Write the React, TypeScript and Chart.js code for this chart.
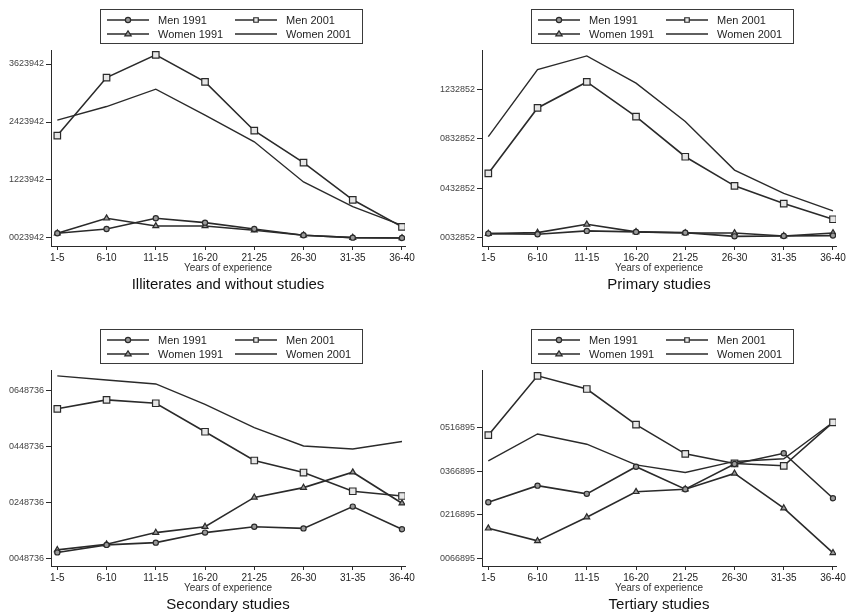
import React, { useEffect, useRef } from "react";
import { Chart, registerables } from "chart.js";

Chart.register(...registerables);

// ---------- data ----------
const categories = ["1-5", "6-10", "11-15", "16-20", "21-25", "26-30", "31-35", "36-40"];
const seriesNames = ["Men 1991", "Men 2001", "Women 1991", "Women 2001"];
const xAxisTitle = "Years of experience";

// Illiterates and without studies
const illitTitle = "Illiterates and without studies";
const illitMen1991 = [0.97, 1.86, 4.07, 3.17, 1.86, 0.55, 0.07, 0.0];
const illitMen2001 = [21.2, 33.2, 37.9, 32.3, 22.2, 15.6, 7.9, 2.3];
const illitWomen1991 = [0.97, 4.07, 2.48, 2.48, 1.6, 0.55, 0.07, 0.0];
const illitWomen2001 = [24.4, 27.2, 30.8, 25.4, 19.9, 11.6, 6.5, 2.6];
const illitTicks = [0, 12, 24, 36];
const illitTickLabels = ["0023942", "1223942", "2423942", "3623942"];

// Primary studies
const primTitle = "Primary studies";
const primMen1991 = [0.35, 0.3, 0.57, 0.49, 0.43, 0.13, 0.16, 0.19];
const primMen2001 = [5.21, 10.5, 12.6, 9.8, 6.56, 4.21, 2.78, 1.51];
const primWomen1991 = [0.35, 0.43, 1.1, 0.49, 0.4, 0.4, 0.16, 0.4];
const primWomen2001 = [8.18, 13.6, 14.7, 12.5, 9.4, 5.48, 3.6, 2.19];
const primTicks = [0, 4, 8, 12];
const primTickLabels = ["0032852", "0432852", "0832852", "1232852"];

// Secondary studies
const secTitle = "Secondary studies";
const secMen1991 = [0.21, 0.48, 0.56, 0.92, 1.13, 1.07, 1.85, 1.04];
const secMen2001 = [5.35, 5.67, 5.55, 4.53, 3.5, 3.07, 2.4, 2.23];
const secWomen1991 = [0.3, 0.5, 0.92, 1.13, 2.18, 2.53, 3.08, 1.97];
const secWomen2001 = [6.53, 6.38, 6.24, 5.51, 4.68, 4.02, 3.91, 4.18];
const secTicks = [0, 2, 4, 6];
const secTickLabels = ["0048736", "0248736", "0448736", "0648736"];

// Tertiary studies
const terTitle = "Tertiary studies";
const terMen1991 = [19.3, 25.0, 22.2, 31.5, 23.8, 32.4, 36.1, 20.7];
const terMen2001 = [42.3, 62.6, 58.1, 45.9, 35.9, 32.6, 31.8, 46.7];
const terWomen1991 = [10.4, 6.1, 14.2, 22.9, 23.8, 29.2, 17.3, 2.0];
const terWomen2001 = [33.5, 42.7, 39.2, 32.1, 29.5, 33.3, 34.2, 46.7];
const terTicks = [0, 15, 30, 45];
const terTickLabels = ["0066895", "0216895", "0366895", "0516895"];

// ---------- styling ----------
const FONT = "'Liberation Sans', Arial, Helvetica, sans-serif";
const INK = "#2a2a2a";
const CANVAS_W = 415;
const CANVAS_H = 300;

const seriesStyles = [
  { pointStyle: "circle", pointRadius: 2.6, pointBackgroundColor: "#9a9a9a", borderWidth: 1.6 },
  { pointStyle: "rect", pointRadius: 4.6, pointBackgroundColor: "#e6e6e6", borderWidth: 1.6 },
  { pointStyle: "triangle", pointRadius: 3.4, pointBackgroundColor: "#9a9a9a", borderWidth: 1.6 },
  { pointStyle: "circle", pointRadius: 0, pointBackgroundColor: INK, borderWidth: 1.4 },
];

type Panel = {
  title: string;
  series: number[][];
  ticks: number[];
  tickLabels: string[];
  yMin: number;
  yMax: number;
  left: number;
  top: number;
};

const panels: Panel[] = [
  { title: illitTitle, series: [illitMen1991, illitMen2001, illitWomen1991, illitWomen2001], ticks: illitTicks, tickLabels: illitTickLabels, yMin: -1.66, yMax: 38.9, left: 0, top: 0 },
  { title: primTitle, series: [primMen1991, primMen2001, primWomen1991, primWomen2001], ticks: primTicks, tickLabels: primTickLabels, yMin: -0.65, yMax: 15.18, left: 431, top: 0 },
  { title: secTitle, series: [secMen1991, secMen2001, secWomen1991, secWomen2001], ticks: secTicks, tickLabels: secTickLabels, yMin: -0.276, yMax: 6.74, left: 0, top: 320 },
  { title: terTitle, series: [terMen1991, terMen2001, terWomen1991, terWomen2001], ticks: terTicks, tickLabels: terTickLabels, yMin: -2.5, yMax: 64.6, left: 431, top: 320 },
];

function drawMarker(ctx: CanvasRenderingContext2D, style: string, r: number, x: number, y: number, fill: string) {
  if (r <= 0) return;
  ctx.save();
  ctx.beginPath();
  if (style === "circle") {
    ctx.arc(x, y, r, 0, Math.PI * 2);
  } else if (style === "rect") {
    const s = r * Math.SQRT1_2;
    ctx.rect(x - s, y - s, 2 * s, 2 * s);
  } else {
    const h = r * 1.5;
    ctx.moveTo(x, y - r);
    ctx.lineTo(x + h * 0.577 * 1.15, y + r * 0.6);
    ctx.lineTo(x - h * 0.577 * 1.15, y + r * 0.6);
    ctx.closePath();
  }
  ctx.fillStyle = fill;
  ctx.fill();
  ctx.lineWidth = 1.2;
  ctx.strokeStyle = INK;
  ctx.stroke();
  ctx.restore();
}

const boxLegend = {
  id: "boxLegend",
  afterDraw(chart: any) {
    const ctx: CanvasRenderingContext2D = chart.ctx;
    const area = chart.chartArea;
    const x0 = area.left + 49;
    const y0 = 9;
    const w = 262;
    const h = 34;
    ctx.save();
    ctx.strokeStyle = "#3a3a3a";
    ctx.lineWidth = 1;
    ctx.strokeRect(x0 + 0.5, y0 + 0.5, w, h);
    const colX = [x0 + 7, x0 + 135];
    const rowY = [y0 + 11, y0 + 25];
    const lineLen = 42;
    ctx.font = `11px ${FONT}`;
    ctx.textBaseline = "middle";
    ctx.textAlign = "left";
    chart.data.datasets.forEach((ds: any, i: number) => {
      const cx = colX[i % 2];
      const cy = rowY[Math.floor(i / 2)];
      ctx.beginPath();
      ctx.moveTo(cx, cy);
      ctx.lineTo(cx + lineLen, cy);
      ctx.strokeStyle = INK;
      ctx.lineWidth = ds.borderWidth;
      ctx.stroke();
      drawMarker(ctx, ds.pointStyle, Math.min(ds.pointRadius, 3.2), cx + lineLen / 2, cy, ds.pointBackgroundColor);
      ctx.fillStyle = "#1e1e1e";
      ctx.fillText(ds.label, cx + lineLen + 9, cy + 0.5);
    });
    ctx.restore();
  },
};

function PanelChart({ panel }: { panel: Panel }) {
  const ref = useRef<HTMLCanvasElement | null>(null);
  useEffect(() => {
    if (!ref.current) return;
    const datasets = panel.series.map((vals, si) => ({
      label: seriesNames[si],
      data: categories.map((_, i) => ({ x: i, y: vals[i] })),
      borderColor: INK,
      borderWidth: seriesStyles[si].borderWidth,
      pointStyle: seriesStyles[si].pointStyle,
      pointRadius: seriesStyles[si].pointRadius,
      pointBackgroundColor: seriesStyles[si].pointBackgroundColor,
      pointBorderColor: INK,
      pointBorderWidth: 1.2,
      tension: 0,
      fill: false,
    }));
    const chart = new Chart(ref.current, {
      type: "line",
      data: { datasets },
      plugins: [boxLegend],
      options: {
        animation: false,
        responsive: false,
        devicePixelRatio: 1,
        layout: { padding: { left: 0, right: 10, top: 50, bottom: 0 } },
        plugins: {
          legend: { display: false },
          tooltip: { enabled: false },
          title: {
            display: true,
            text: panel.title,
            position: "bottom",
            fullSize: false,
            color: "#111",
            font: { family: FONT, size: 15, weight: "normal" },
            padding: { top: 0, bottom: 6 },
          },
        },
        scales: {
          x: {
            type: "linear",
            min: -0.128,
            max: 7.061,
            afterBuildTicks: (s: any) => {
              s.ticks = categories.map((_, i) => ({ value: i }));
            },
            afterFit: (s: any) => {
              s.height = 30;
              s.paddingLeft = 0;
              s.paddingRight = 0;
            },
            ticks: {
              autoSkip: false,
              maxRotation: 0,
              padding: 2,
              color: "#222",
              font: { family: FONT, size: 10 },
              callback: (_v: any, i: number) => categories[i],
            },
            grid: { display: true, drawOnChartArea: false, drawTicks: true, tickLength: 4, color: INK, lineWidth: 1 },
            border: { display: true, color: INK, width: 1 },
            title: {
              display: true,
              text: xAxisTitle,
              color: "#333",
              font: { family: FONT, size: 10 },
              padding: { top: 0, bottom: 2 },
            },
          },
          y: {
            type: "linear",
            min: panel.yMin,
            max: panel.yMax,
            afterBuildTicks: (s: any) => {
              s.ticks = panel.ticks.map((v) => ({ value: v }));
            },
            afterFit: (s: any) => {
              s.width = 51;
              s.paddingTop = 0;
              s.paddingBottom = 0;
            },
            ticks: {
              autoSkip: false,
              padding: 2,
              color: "#444",
              font: { family: FONT, size: 9 },
              callback: (_v: any, i: number) => panel.tickLabels[i],
            },
            grid: { display: true, drawOnChartArea: false, drawTicks: true, tickLength: 5, color: INK, lineWidth: 1 },
            border: { display: true, color: INK, width: 1 },
          },
        },
      } as any,
    });
    return () => chart.destroy();
  }, [panel]);
  return (
    <canvas
      ref={ref}
      width={CANVAS_W}
      height={CANVAS_H}
      style={{ position: "absolute", left: panel.left, top: panel.top, width: CANVAS_W, height: CANVAS_H }}
    />
  );
}

export default function App() {
  return (
    <div
      style={{
        position: "fixed",
        left: 0,
        top: 0,
        width: 846,
        height: 613,
        overflow: "hidden",
        background: "#fff",
      }}
    >
      {panels.map((p, i) => (
        <PanelChart key={i} panel={p} />
      ))}
    </div>
  );
}
